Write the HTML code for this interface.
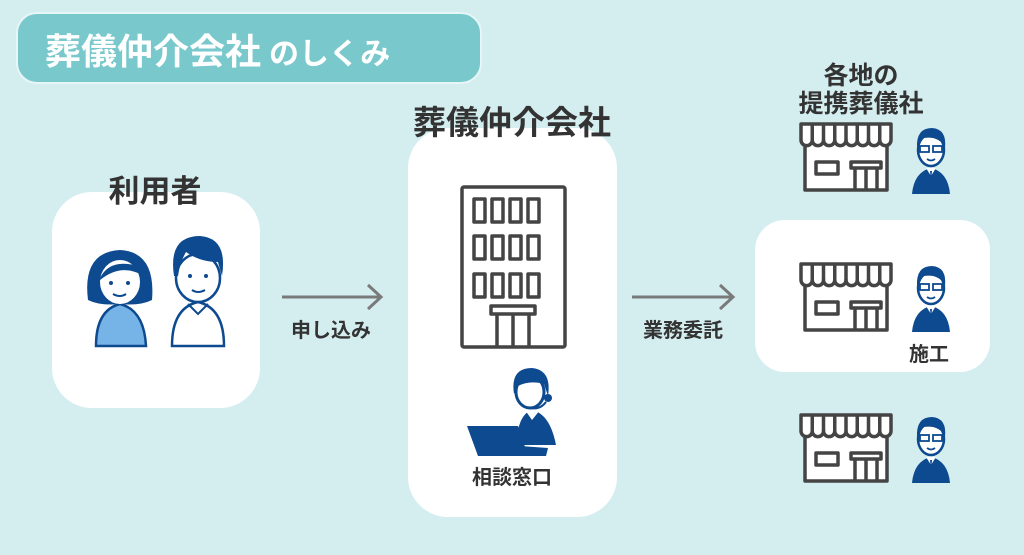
<!DOCTYPE html>
<html><head><meta charset="utf-8"><style>
html,body{margin:0;padding:0;background:#d4eef0;}
svg{display:block}
text{font-family:"Liberation Sans","Noto Sans CJK JP",sans-serif;font-weight:bold;}
</style></head><body>
<svg width="1024" height="555" viewBox="0 0 1024 555" xmlns="http://www.w3.org/2000/svg">
<defs>
<g id="shop" fill="#fff" stroke="#444" stroke-width="3.5" stroke-linejoin="round">
  <rect x="4" y="10" width="82" height="56"/>
  <path d="M0 0 H90 V16 a5.6 5.6 0 0 1 -11.25 0 a5.6 5.6 0 0 1 -11.25 0 a5.6 5.6 0 0 1 -11.25 0 a5.6 5.6 0 0 1 -11.25 0 a5.6 5.6 0 0 1 -11.25 0 a5.6 5.6 0 0 1 -11.25 0 a5.6 5.6 0 0 1 -11.25 0 a5.6 5.6 0 0 1 -11.25 0 Z"/>
  <path d="M11.25 0V16M22.5 0V16M33.75 0V16M45 0V16M56.25 0V16M67.5 0V16M78.75 0V16" fill="none"/>
  <rect x="15" y="38" width="22" height="12"/>
  <rect x="50" y="38" width="30" height="6"/>
  <path d="M54 44V66M76 44V66M65 44V66" fill="none"/>
</g>
<g id="man">
  <path d="M2 70 Q4 48 21 44 Q38 48 40 70 Z" fill="#0d4a8f"/>
  <path d="M16 44 L21 52 L26 44 Z" fill="#fff"/>
  <path d="M20 47 L22 47 L21 58 Z" fill="#0d4a8f"/>
  <ellipse cx="21" cy="26" rx="13" ry="16" fill="#fff" stroke="#0d4a8f" stroke-width="2.5"/>
  <path d="M7 24 Q6 4 22 4 Q37 5 35 24 L33 20 Q26 12 14 14 Q10 17 9 24 Z" fill="#0d4a8f"/>
  <rect x="10" y="22" width="9" height="6" fill="none" stroke="#0d4a8f" stroke-width="1.8"/>
  <rect x="23" y="22" width="9" height="6" fill="none" stroke="#0d4a8f" stroke-width="1.8"/>
  <path d="M17 35 Q21 38 25 35" fill="none" stroke="#0d4a8f" stroke-width="1.8"/>
</g>
</defs>

<!-- title -->
<rect x="17" y="13" width="464" height="70" rx="20" fill="#78c8cc" stroke="#e6f6f7" stroke-width="2"/>
<text x="45" y="64" fill="#fff" font-size="36">葬儀仲介会社<tspan font-size="30" dx="8">のしくみ</tspan></text>

<!-- left -->
<rect x="52" y="192" width="208" height="216" rx="40" fill="#fff"/>
<text x="155" y="202" text-anchor="middle" font-size="31" fill="#333">利用者</text>
<!-- woman -->
<g>
  <path d="M96 346 Q96 310 120 304 Q144 310 146 346 Z" fill="#76b3e6" stroke="#0d4a8f" stroke-width="2.5"/>
  <path d="M88 300 Q82 252 120 250 Q156 252 152 300 Q140 306 120 304 Q100 306 88 300 Z" fill="#0d4a8f"/>
  <ellipse cx="120" cy="282" rx="20" ry="22" fill="#fff"/>
  <path d="M100 278 Q110 258 138 266 L140 274 Q120 264 100 280Z" fill="#0d4a8f"/>
  <circle cx="111" cy="283" r="2" fill="#0d4a8f"/><circle cx="128" cy="283" r="2" fill="#0d4a8f"/>
  <path d="M113 294 Q120 298 126 294" fill="none" stroke="#0d4a8f" stroke-width="2"/>
</g>
<!-- man -->
<g>
  <path d="M172 346 Q172 308 198 302 Q224 308 224 346 Z" fill="#fff" stroke="#0d4a8f" stroke-width="2.5"/>
  <path d="M188 304 L198 314 L208 304" fill="none" stroke="#0d4a8f" stroke-width="2"/>
  <ellipse cx="198" cy="278" rx="22" ry="24" fill="#fff" stroke="#0d4a8f" stroke-width="2.5"/>
  <path d="M174 276 Q168 236 200 236 Q228 238 222 276 L218 262 Q200 262 186 252 Q180 262 178 276Z" fill="#0d4a8f"/>
  <circle cx="190" cy="276" r="2" fill="#0d4a8f"/><circle cx="206" cy="276" r="2" fill="#0d4a8f"/>
  <path d="M192 290 Q198 294 205 290" fill="none" stroke="#0d4a8f" stroke-width="2"/>
</g>

<!-- arrow 1 -->
<g stroke="#7a7a7a" stroke-width="3" fill="none">
  <path d="M282 297 H380"/><path d="M368 285 L381 297 L368 309"/>
</g>
<text x="331" y="337" text-anchor="middle" font-size="20" fill="#333">申し込み</text>

<!-- middle -->
<rect x="408" y="128" width="209" height="389" rx="40" fill="#fff"/>
<text x="512" y="134" text-anchor="middle" font-size="33" fill="#333">葬儀仲介会社</text>
<g fill="none" stroke="#444" stroke-width="3.5" stroke-linejoin="round">
  <rect x="462" y="187" width="103" height="160" rx="2"/>
  <rect x="474" y="199" width="11" height="23"/><rect x="492" y="199" width="11" height="23"/><rect x="510" y="199" width="11" height="23"/><rect x="528" y="199" width="11" height="23"/>
  <rect x="474" y="236" width="11" height="23"/><rect x="492" y="236" width="11" height="23"/><rect x="510" y="236" width="11" height="23"/><rect x="528" y="236" width="11" height="23"/>
  <rect x="474" y="274" width="11" height="23"/><rect x="492" y="274" width="11" height="23"/><rect x="510" y="274" width="11" height="23"/><rect x="528" y="274" width="11" height="23"/>
  <rect x="491" y="306" width="44" height="8"/>
  <path d="M497 314V347M529 314V347M513 314V347"/>
</g>
<!-- operator -->
<g>
  <path d="M516 445 Q518 414 532 410 Q550 414 556 445 Z" fill="#0d4a8f"/>
  <path d="M525 410 L532 420 L540 410Z" fill="#fff"/>
  <ellipse cx="530" cy="392" rx="14" ry="16" fill="#fff" stroke="#0d4a8f" stroke-width="3"/>
  <path d="M514 394 Q510 368 532 368 Q552 370 548 396 L544 384 Q530 380 518 386Z" fill="#0d4a8f"/>
  <circle cx="548" cy="398" r="4" fill="#0d4a8f"/>
  <path d="M546 402 Q540 410 530 408" fill="none" stroke="#0d4a8f" stroke-width="2"/>
  <path d="M467 426 H518 L528 456 H478 Z" fill="#0d4a8f"/>
  <path d="M520 446 L548 448 L546 456 L522 456Z" fill="#0d4a8f"/>
</g>
<text x="512" y="484" text-anchor="middle" font-size="20" fill="#333">相談窓口</text>

<!-- arrow 2 -->
<g stroke="#7a7a7a" stroke-width="3" fill="none">
  <path d="M632 297 H732"/><path d="M720 285 L733 297 L720 309"/>
</g>
<text x="683" y="337" text-anchor="middle" font-size="20" fill="#333">業務委託</text>

<!-- right -->
<text x="861" y="84" text-anchor="middle" font-size="25" fill="#333">各地の</text>
<text x="861" y="112" text-anchor="middle" font-size="25" fill="#333">提携葬儀社</text>
<rect x="755" y="220" width="235" height="152" rx="30" fill="#fff"/>
<use href="#shop" x="801" y="124"/>
<use href="#man" x="910" y="124"/>
<use href="#shop" x="801" y="264"/>
<use href="#man" x="910" y="262"/>
<text x="929" y="361" text-anchor="middle" font-size="20" fill="#333">施工</text>
<use href="#shop" x="801" y="415"/>
<use href="#man" x="910" y="413"/>
</svg>
</body></html>
